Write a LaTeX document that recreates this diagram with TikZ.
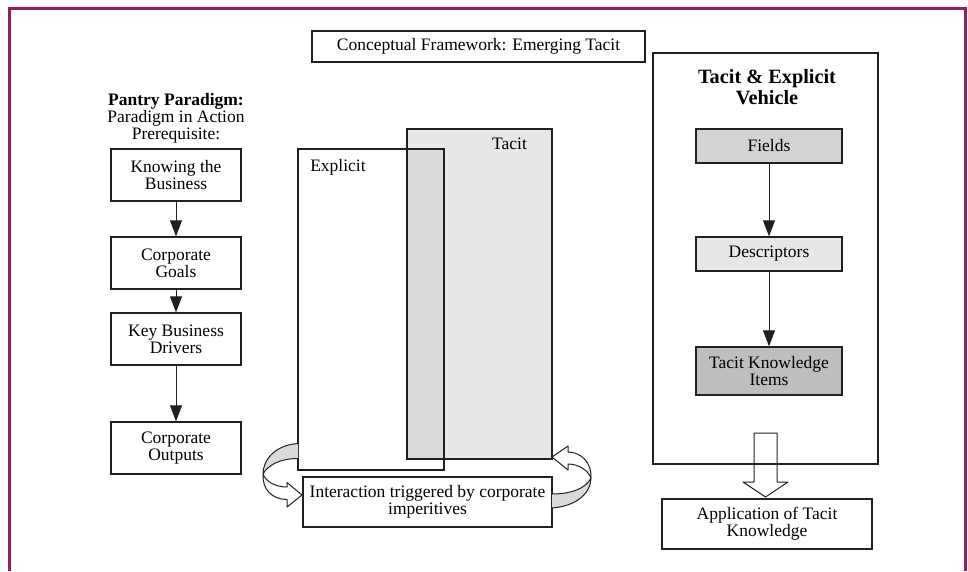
\documentclass[tikz,border=0pt]{standalone}
\usepackage{fontspec}
\setmainfont{Liberation Serif}
\usetikzlibrary{arrows.meta}
\definecolor{bordercol}{RGB}{155,27,95}
\definecolor{linecol}{RGB}{35,31,32}
\definecolor{tacitfill}{RGB}{230,231,232}
\definecolor{overlapfill}{RGB}{217,218,219}
\definecolor{fieldfill}{RGB}{209,211,212}
\definecolor{descfill}{RGB}{230,231,232}
\definecolor{tkifill}{RGB}{188,190,192}
\definecolor{bandgray}{RGB}{217,218,219}
\begin{document}
\begin{tikzpicture}[x=1pt,y=-1pt,
  txt/.style={font=\fontsize{17.5}{17}\selectfont, align=center, inner sep=0pt},
  box/.style={txt, draw=linecol, line width=1.3pt},
  arr/.style={draw=linecol, line width=1pt, -{Triangle[width=12pt,length=16pt]}},
  outl/.style={draw=linecol, line width=1pt, line join=round}]
\useasboundingbox (0,0) rectangle (968,571);
% frame
\draw[bordercol, line width=3pt] (9.7,571) -- (9.7,8.3) -- (965.3,8.3) -- (965.3,571);
% title
\node[box, minimum width=333pt, minimum height=31pt] (title) at (478.5,46.5) {Conceptual Framework: Emerging Tacit};
% left column
\node[txt] (pantry) at (176,118) {\textbf{Pantry Paradigm:}\\Paradigm in Action\\Prerequisite:};
\node[box, minimum width=130pt, minimum height=52pt] (know) at (176,175) {Knowing the\\Business};
\node[box, minimum width=130pt, minimum height=52pt] (goals) at (176,263) {Corporate\\Goals};
\node[box, minimum width=130pt, minimum height=52pt] (drivers) at (176,339) {Key Business\\Drivers};
\node[box, minimum width=130pt, minimum height=52pt] (outputs) at (176,448) {Corporate\\Outputs};
\draw[arr] (know) -- (goals);
\draw[arr] (goals) -- (drivers);
\draw[arr] (drivers) -- (outputs);
% explicit / tacit
\fill[tacitfill] (407,129) rectangle (552,459);
\fill[overlapfill] (407,149) rectangle (444,459);
\node[draw=linecol, line width=1.3pt, minimum width=145pt, minimum height=330pt, inner sep=0pt] (tacit) at (479.5,294) {};
\node[draw=linecol, line width=1.3pt, minimum width=146pt, minimum height=321pt, inner sep=0pt] (explicit) at (371,309.5) {};
\node[txt] (explbl) at (338,167) {Explicit};
\node[txt] (taclbl) at (509.5,144) {Tacit};
\node[box, minimum width=249pt, minimum height=50pt] (inter) at (427.5,502) {Interaction triggered by corporate\\imperitives};
% left curved arrow
\fill[bandgray] (298,443.5) .. controls (275,445) and (263,460) .. (263,474) .. controls (268,465) and (280,458.5) .. (298,458.5) -- cycle;
\draw[outl] (298,443.5) .. controls (275,445) and (263,460) .. (263,474) .. controls (268,465) and (280,458.5) .. (298,458.5);
\filldraw[outl, fill=white] (263,474) .. controls (266,482) and (276,487) .. (287,487) -- (287,482.5) -- (302,495) -- (287,507) -- (287,499.5) .. controls (272,499.5) and (262,489) .. (263,474) -- cycle;
% right curved arrow
\fill[bandgray] (552,508) .. controls (578,506) and (591,492) .. (591,478) .. controls (586,488) and (572,494) .. (552,494) -- cycle;
\draw[outl] (552,508) .. controls (578,506) and (591,492) .. (591,478) .. controls (586,488) and (572,494) .. (552,494);
\filldraw[outl, fill=white] (591,478) .. controls (588,470) and (578,464) .. (568,464) -- (568,470) -- (552,457) -- (568,446) -- (568,452) .. controls (582,452) and (592,464) .. (591,478) -- cycle;
% right panel
\node[draw=linecol, line width=1.3pt, minimum width=225pt, minimum height=411pt, inner sep=0pt] (vehicle) at (765.5,258.5) {};
\node[txt, font=\fontsize{20.3}{21}\selectfont\bfseries] (vtitle) at (767,87) {Tacit \& Explicit\\Vehicle};
\node[box, fill=fieldfill, minimum width=146pt, minimum height=34pt] (fields) at (769,146) {Fields};
\node[box, fill=descfill, minimum width=146pt, minimum height=34pt] (desc) at (769,254) {Descriptors};
\node[box, fill=tkifill, minimum width=146pt, minimum height=48pt] (tki) at (769,371) {Tacit Knowledge\\Items};
\draw[arr] (fields) -- (desc);
\draw[arr] (desc) -- (tki);
\node[box, minimum width=210pt, minimum height=50pt] (app) at (767,524) {Application of Tacit\\Knowledge};
% hollow arrow
\draw[outl] (754,433) -- (777,433) -- (777,482) -- (788,482) -- (765.5,497) -- (743,482) -- (754,482) -- cycle;
\end{tikzpicture}
\end{document}
